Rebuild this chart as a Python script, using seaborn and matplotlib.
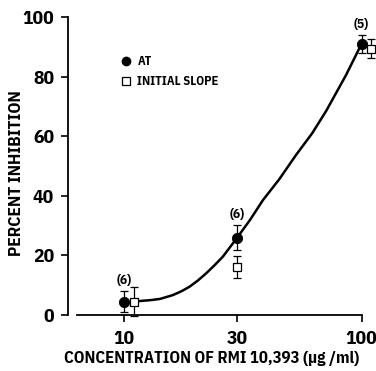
import numpy as np
import pandas as pd
import matplotlib
matplotlib.use("Agg")
import matplotlib.pyplot as plt
from matplotlib.lines import Line2D
import seaborn as sns

# ---- data ----
conc = [10, 30, 100]
at_mean = [4.5, 26.0, 91.0]
at_err = [3.6, 4.2, 3.0]
slope_mean = [4.5, 16.1, 89.3]
slope_err = [4.8, 3.7, 3.2]
n_labels = ["(6)", "(6)", "(5)"]
curve_x = [10.8, 11.7, 13.0, 14.2, 16.1, 17.5, 18.9, 20.5, 22.2, 24.0, 26.1, 30, 34, 38.5, 45, 53, 62, 71, 86, 100]
curve_y = [4.4, 4.7, 5.0, 5.4, 6.7, 8.0, 9.5, 11.6, 14.0, 16.6, 19.6, 26.0, 32.0, 38.6, 45.5, 53.7, 61.0, 68.5, 80.5, 91.0]
x_ticks = [10, 30, 100]
x_tick_labels = ["10", "30", "100"]
y_ticks = [0, 20, 40, 60, 80, 100]

sns.set_style("ticks", {"text.color": "black", "axes.labelcolor": "black",
                        "xtick.color": "black", "ytick.color": "black",
                        "axes.edgecolor": "black"})
FONT = ["IBM Plex Sans Condensed", "DejaVu Sans"]
plt.rcParams["font.family"] = FONT

fig = plt.figure(figsize=(3.76, 3.71), dpi=100)
ax = fig.add_axes([68/376, (371-315)/371, 1 - 68/376, (315-17)/371])

ax.set_xscale("log")
ax.set_xlim(5.82, 115)
ax.set_ylim(0, 100)

curve = pd.DataFrame({"x": curve_x, "y": curve_y})
sns.lineplot(data=curve, x="x", y="y", ax=ax, color="black", lw=1.8, estimator=None, sort=False)

dodge = [1.1, 1.0, 1.1]
sq_x = [c * d for c, d in zip(conc, dodge)]

ax.errorbar(conc, at_mean, yerr=at_err, fmt="none", ecolor="black", elinewidth=0.9, capsize=3, capthick=0.9, clip_on=False, zorder=3)
ax.errorbar(sq_x, slope_mean, yerr=slope_err, fmt="none", ecolor="black", elinewidth=0.9, capsize=3, capthick=0.9, clip_on=False, zorder=3)

pts = pd.DataFrame({"x": conc, "y": at_mean})
sns.scatterplot(data=pts, x="x", y="y", ax=ax, marker="o", s=55, color="black", edgecolor="black", zorder=5, clip_on=False)
sq = pd.DataFrame({"x": sq_x, "y": slope_mean})
sns.scatterplot(data=sq, x="x", y="y", ax=ax, marker="s", s=40, facecolor="white", edgecolor="black", linewidth=0.9, zorder=4, clip_on=False)

for c, m, e, t in zip(conc, at_mean, at_err, n_labels):
    ax.annotate(t, (c, m + e), xytext=(0, 3), textcoords="offset points", ha="center", va="bottom", fontsize=9.5, fontweight="bold")

ax.set_xticks(x_ticks)
ax.set_xticklabels(x_tick_labels)
ax.xaxis.set_minor_locator(matplotlib.ticker.NullLocator())
ax.set_yticks(y_ticks)
ax.tick_params(axis="both", which="major", direction="out", length=5, width=1.2, labelsize=14)
ax.tick_params(axis="x", pad=6)
ax.tick_params(axis="y", pad=5)
for lab in ax.get_xticklabels() + ax.get_yticklabels():
    lab.set_fontweight("bold")

sns.despine(ax=ax)
ax.spines["bottom"].set_bounds(6.35, 100)
ax.spines["left"].set_linewidth(1.3)
ax.spines["bottom"].set_linewidth(1.3)

ax.set_xlabel("CONCENTRATION OF RMI 10,393 (µg /ml)", fontsize=12, fontweight="bold")
ax.xaxis.set_label_coords((211.5 - 68) / 308, -(351 - 315) / 298)
ax.xaxis.label.set_va("top")
ax.set_ylabel("PERCENT INHIBITION", fontsize=12.5, fontweight="bold")
ax.yaxis.set_label_coords((24 - 68) / 308, (315 - 173) / 298)

handles = [Line2D([], [], marker="o", ls="none", color="black", markersize=6),
           Line2D([], [], marker="s", ls="none", markerfacecolor="white", markeredgecolor="black", markersize=5.5, markeredgewidth=0.9)]
leg = ax.legend(handles, ["AT", "INITIAL SLOPE"], loc="upper left", bbox_to_anchor=(121/376, 1 - 55/371),
                bbox_transform=fig.transFigure, frameon=False, handlelength=0.8, handletextpad=0.5,
                labelspacing=0.55, prop={"size": 9, "weight": "bold", "family": FONT}, borderpad=0, borderaxespad=0)

fig.savefig("out.png", dpi=100)
